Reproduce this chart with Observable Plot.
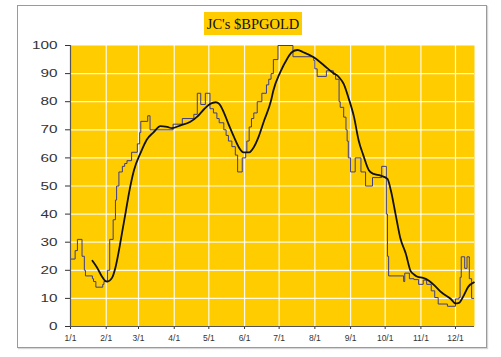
<!DOCTYPE html>
<html><head><meta charset="utf-8">
<script src="https://cdn.jsdelivr.net/npm/d3@7"></script>
<script src="https://cdn.jsdelivr.net/npm/@observablehq/plot@0.6"></script>
<style>
body{margin:0;background:#fff;width:501px;height:357px;overflow:hidden;position:relative;font-family:"Liberation Sans",Arial,sans-serif}
#frame{position:absolute;left:17px;top:5px;width:468px;height:341px;border:1px solid #9a9a9a;box-shadow:1px 1px 1px #d6d6d6}
#title{position:absolute;left:204px;top:12px;width:98px;height:23px;background:#FFCC00;font-family:"Liberation Serif","Times New Roman",serif;font-size:14.5px;line-height:24px;text-align:center;color:#111}
#chart{position:absolute;left:0;top:0}
</style></head><body>
<div id="frame"></div>
<div id="title">JC's $BPGOLD</div>
<div id="chart"></div>
<script>
const titleText = "JC's $BPGOLD";

const xTickDates = ["2010-01-01","2010-02-01","2010-03-01","2010-04-01","2010-05-01","2010-06-01",
  "2010-07-01","2010-08-01","2010-09-01","2010-10-01","2010-11-01","2010-12-01"];
const xTickLabels = ["1/1","2/1","3/1","4/1","5/1","6/1","7/1","8/1","9/1","10/1","11/1","12/1"];
const yTicks = [0,10,20,30,40,50,60,70,80,90,100];
const xEnd = "2010-12-17T12:00";

// thin blue series (step changes)
const blueDates = ["2010-01-01","2010-01-05","2010-01-07","2010-01-11","2010-01-13","2010-01-14","2010-01-20","2010-01-21",
  "2010-01-23","2010-01-29","2010-01-30","2010-02-02","2010-02-04","2010-02-07","2010-02-09","2010-02-10","2010-02-12",
  "2010-02-15","2010-02-17","2010-02-19","2010-02-23","2010-02-28","2010-03-02","2010-03-03","2010-03-09","2010-03-11",
  "2010-03-31","2010-04-08","2010-04-18","2010-04-21","2010-04-24","2010-04-28","2010-05-02","2010-05-05","2010-05-08",
  "2010-05-10","2010-05-14","2010-05-16","2010-05-18","2010-05-21","2010-05-24","2010-05-26","2010-05-30","2010-06-02",
  "2010-06-03","2010-06-05","2010-06-07","2010-06-09","2010-06-12","2010-06-16","2010-06-20","2010-06-22","2010-06-24",
  "2010-06-26","2010-06-30","2010-07-13","2010-07-31","2010-08-01","2010-08-03","2010-08-11","2010-08-17","2010-08-19",
  "2010-08-22","2010-08-23","2010-08-26","2010-08-28","2010-08-29","2010-08-30","2010-09-01","2010-09-05","2010-09-10",
  "2010-09-14","2010-09-20","2010-09-28","2010-10-02","2010-10-03","2010-10-04","2010-10-17","2010-10-18","2010-10-22",
  "2010-10-26","2010-10-30","2010-11-03","2010-11-06","2010-11-10","2010-11-13","2010-11-16","2010-11-24","2010-12-01",
  "2010-12-04","2010-12-05","2010-12-06","2010-12-09","2010-12-11","2010-12-13","2010-12-15","2010-12-17"];
const blueValues = [24,27,31,25,20,18,17,16,
  14,15,16,20,31,38,45,50,55,
  57,58,59,62,65,69,73,75,70,
  72,74,75.5,83,79,83,77.5,76,74,
  72.5,70,68,66,64,61,55,60,62,
  66,71,74,76,80,83,86,88,90,
  95,100,96,94.7,91.7,89,91,89.7,88,
  80,78,74.5,70,66,60,55,60,55,
  50,53,57,40,25,18,16,19,17,
  16.7,15,16.5,15,12.7,10.3,8,7.2,9.8,
  10.3,17.5,24.8,20.7,24.8,17,10,10];

// thick black smoothed series
const blackDates = ["2010-01-20","2010-01-24","2010-01-28","2010-01-31","2010-02-02","2010-02-06","2010-02-09","2010-02-12",
  "2010-02-15","2010-02-18","2010-02-21","2010-02-25","2010-03-03","2010-03-08","2010-03-14","2010-03-20","2010-03-26",
  "2010-03-30","2010-04-06","2010-04-15","2010-04-21","2010-04-27","2010-05-02","2010-05-07","2010-05-10","2010-05-14",
  "2010-05-18","2010-05-23","2010-05-27","2010-05-31","2010-06-05","2010-06-09","2010-06-13","2010-06-18","2010-06-24",
  "2010-06-26","2010-07-02","2010-07-08","2010-07-12","2010-07-17","2010-07-22","2010-07-31","2010-08-09","2010-08-16",
  "2010-08-22","2010-08-26","2010-08-30","2010-09-04","2010-09-08","2010-09-12","2010-09-17","2010-09-21","2010-09-27",
  "2010-10-03","2010-10-06","2010-10-10","2010-10-14","2010-10-19","2010-10-23","2010-10-26","2010-10-29","2010-11-03",
  "2010-11-08","2010-11-14","2010-11-19","2010-11-27","2010-12-01","2010-12-04","2010-12-08","2010-12-12","2010-12-17"];
const blackValues = [23.4,21,18,16.3,16,17.3,21,27,
  34,41,48,55.5,62,66.4,69.1,71.3,71,
  70.6,71.5,72.9,74.7,77.4,79.2,79.8,79.2,76.2,
  72.1,67.3,63.8,62,62,63.8,67.3,73.3,80.4,
  84,90.5,95.3,97.6,98.4,97.6,95.8,92.9,90.5,
  88.7,86.3,81.6,74.5,66.2,61,55.5,54.3,53.7,
  52.5,48.3,40,31.7,25.8,19.8,18.5,17.7,17.3,
  16.3,14.1,12.1,9.8,8.2,8.4,10.9,14.1,15.7];

const parse = s => new Date(s.length > 10 ? s + "Z" : s + "T00:00Z");
const blue = blueDates.map((d, i) => ({date: parse(d), value: blueValues[i]}));
const black = blackDates.map((d, i) => ({date: parse(d), value: blackValues[i]}));
const tickDates = xTickDates.map(parse);
const labelOf = new Map(tickDates.map((d, i) => [+d, xTickLabels[i]]));

const chart = Plot.plot({
  width: 501,
  height: 357,
  marginLeft: 70,
  marginRight: 27,
  marginTop: 45,
  marginBottom: 31,
  style: {background: "transparent", fontFamily: "'Liberation Sans', Arial, sans-serif", fontSize: "8.5px", color: "#333"},
  x: {type: "utc", domain: [tickDates[0], parse(xEnd)], ticks: tickDates, tickFormat: d => labelOf.get(+d), tickSize: 3, tickPadding: 5, label: null},
  y: {domain: [0, 100], ticks: yTicks, tickSize: 5, tickPadding: 8, label: null},
  marks: [
    Plot.frame({fill: "#FFCC00", stroke: "none"}),
    Plot.ruleY(yTicks.filter(v => v > 0 && v < 100), {stroke: "#fff", strokeWidth: 1.2, strokeOpacity: 0.9}),
    Plot.ruleX(tickDates.slice(1), {stroke: "#fff", strokeWidth: 1.2, strokeOpacity: 0.9}),
    Plot.line(blue, {x: "date", y: "value", curve: "step-after", stroke: "#3c3c8c", strokeWidth: 1}),
    Plot.line(black, {x: "date", y: "value", curve: "monotone-x", stroke: "#111", strokeWidth: 1.8}),
    Plot.ruleX([tickDates[0]], {stroke: "#555", strokeWidth: 1.2}),
    Plot.ruleY([0], {stroke: "#555", strokeWidth: 1.2})
  ]
});
document.getElementById("chart").appendChild(chart);

// widen the y tick labels as in the reference
chart.querySelectorAll('[aria-label^="y-axis"] text').forEach(t => {
  const n = t.textContent.length;
  t.style.fontSize = "11.5px";
  t.setAttribute("textLength", n * 8.5);
  t.setAttribute("lengthAdjust", "spacingAndGlyphs");
});
</script></body></html>
